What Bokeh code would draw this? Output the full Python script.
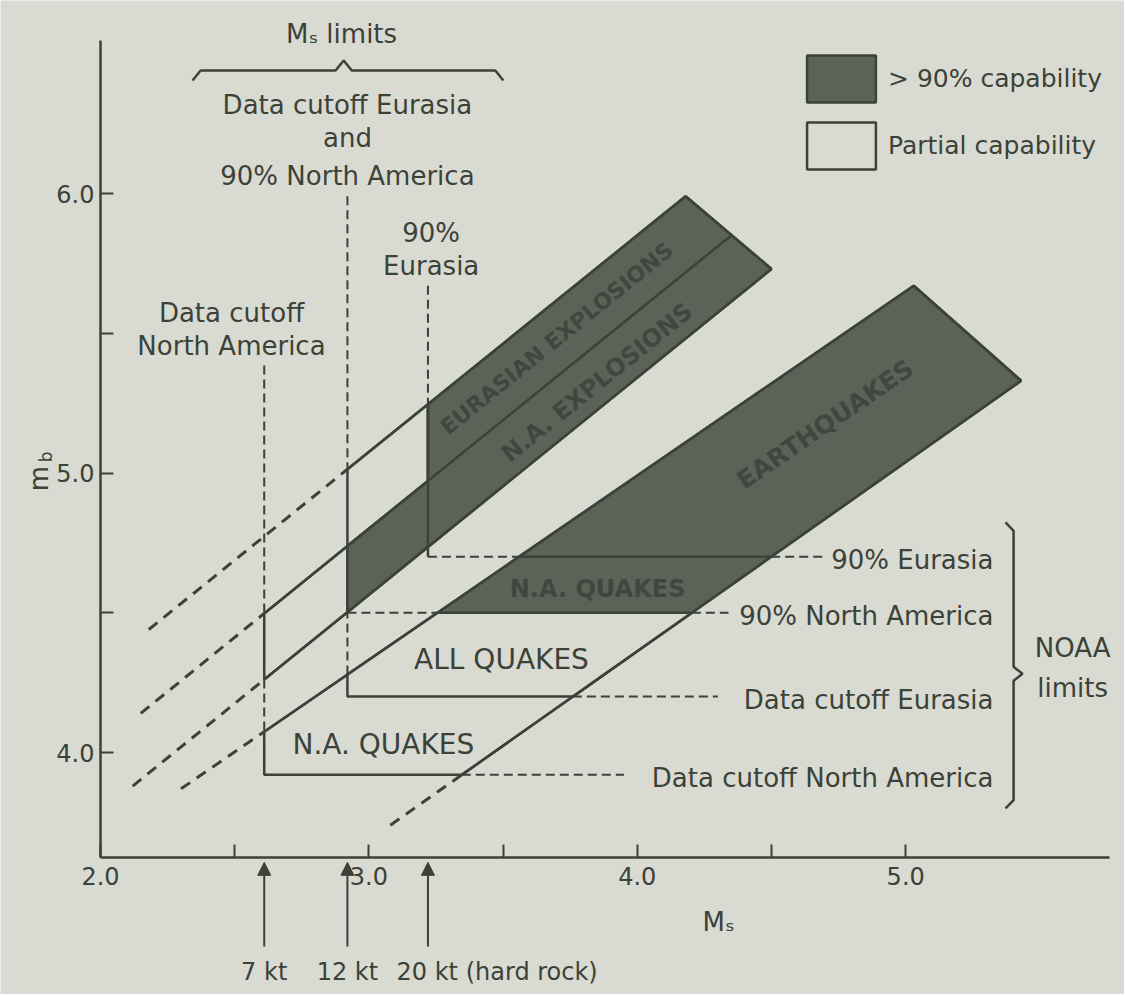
import math
from bokeh.plotting import figure
from bokeh.models import (Range1d, FixedTicker, Arrow, NormalHead,
                          Legend, LegendItem, PrintfTickFormatter)
from bokeh.core.properties import value
from bokeh.embed import file_html
from bokeh.resources import INLINE

# ---------------- data ----------------
# band boundary lines, each given by two (Ms, mb) end points
eu_expl_top  = [(2.18, 4.44), (4.18, 5.99)]   # upper edge, Eurasian explosions
expl_divider = [(2.15, 4.14), (4.35, 5.85)]   # Eurasian / N.A. explosions divider
na_expl_bot  = [(2.12, 3.88), (4.50, 5.73)]   # lower edge, N.A. explosions
quake_top    = [(2.30, 3.87), (5.03, 5.67)]   # upper edge, earthquakes
quake_bot    = [(3.08, 3.74), (5.43, 5.33)]   # lower edge, earthquakes

# Ms limits (vertical lines) and yields
ms_limits = [2.61, 2.92, 3.22]        # data cutoff N.A., data cutoff Eurasia/90% N.A., 90% Eurasia
ms_line_tops = [5.385, 5.99, 5.67]    # mb where the dashed verticals start
yield_labels = ["7 kt", "12 kt", "20 kt (hard rock)"]

# NOAA mb limits (horizontal lines)
mb_limits = [4.70, 4.50, 4.20, 3.92]
mb_limit_labels = ["90% Eurasia", "90% North America",
                   "Data cutoff Eurasia", "Data cutoff North America"]
mb_dash_ends = [4.69, 4.34, 4.30, 3.95]

# axis ticks
x_ticks = [2.0, 2.5, 3.0, 3.5, 4.0, 4.5, 5.0]
x_blank = [2.5, 3.5, 4.5]
y_ticks = [4.0, 4.5, 5.0, 5.5, 6.0]
y_blank = [4.5, 5.5]
x_axis_at_mb = 3.624
y_axis_at_ms = 2.0

# brace extents
ms_brace_span = [2.343, 3.501]
noaa_brace_span = [3.80, 4.823]

# ---------------- styling ----------------
BG = "#d9dad2"
INK = "#3b4238"
DARK = "#5b6257"
DARK_TXT = "#41473e"
FONT = "DejaVu Sans"


def y_at(line, x):
    (x0, y0), (x1, y1) = line
    return y0 + (y1 - y0) * (x - x0) / (x1 - x0)


def x_at(line, y):
    (x0, y0), (x1, y1) = line
    return x0 + (x1 - x0) * (y - y0) / (y1 - y0)


L1, L2, L3, L4, L5 = eu_expl_top, expl_divider, na_expl_bot, quake_top, quake_bot
NAc, EUc, EU90 = ms_limits
E90, N90, Ec, Nc = mb_limits

p = figure(width=1124, height=994, output_backend="svg", toolbar_location=None,
           title=None, x_range=Range1d(1.62742, 5.8152), y_range=Range1d(3.1342, 6.69052),
           min_border_left=0, min_border_right=0, min_border_top=0,
           min_border_bottom=0, min_border=0)
p.background_fill_color = BG
p.border_fill_color = BG
p.outline_line_color = None
p.grid.visible = False

# axes (drawn at fixed data locations so the frame spans the whole canvas)
for ax in p.xaxis:
    ax.ticker = FixedTicker(ticks=x_ticks)
    ax.formatter = PrintfTickFormatter(format="%.1f")
    ax.major_label_overrides = {t: "" for t in x_blank}
    ax.bounds = (2.0, 5.76)
    ax.fixed_location = x_axis_at_mb
for ax in p.yaxis:
    ax.ticker = FixedTicker(ticks=y_ticks)
    ax.formatter = PrintfTickFormatter(format="%.1f")
    ax.major_label_overrides = {t: "" for t in y_blank}
    ax.bounds = (x_axis_at_mb, 6.547)
    ax.fixed_location = y_axis_at_ms
for ax in list(p.xaxis) + list(p.yaxis):
    ax.axis_line_color = INK
    ax.axis_line_width = 2.5
    ax.major_tick_line_color = INK
    ax.major_tick_line_width = 2
    ax.major_tick_in = 13
    ax.major_tick_out = 0
    ax.minor_tick_line_color = None
    ax.major_label_text_font = FONT
    ax.major_label_text_font_size = "24px"
    ax.major_label_text_color = INK
p.xaxis.major_label_standoff = 9
p.yaxis.major_label_standoff = 6
p.yaxis.major_label_orientation = "horizontal"


def seg(line, xa, xb):
    return [xa, xb], [y_at(line, xa), y_at(line, xb)]


# ---------- partial-capability regions ----------
partial = [
    ([EUc, EU90, EU90, EUc], [y_at(L1, EUc), y_at(L1, EU90), y_at(L2, EU90), y_at(L2, EUc)]),
    ([NAc, EUc, EUc, NAc], [y_at(L2, NAc), y_at(L2, EUc), y_at(L3, EUc), y_at(L3, NAc)]),
    ([NAc, NAc, x_at(L4, N90), x_at(L5, N90), x_at(L5, Nc)],
     [Nc, y_at(L4, NAc), N90, N90, Nc]),
    ([EUc, EUc, x_at(L4, N90), x_at(L5, N90), x_at(L5, Ec)],
     [Ec, y_at(L4, EUc), N90, N90, Ec]),
]
r_partial = p.patches([a for a, b in partial], [b for a, b in partial],
                      fill_color=BG, line_color=INK, line_width=2.5)

# ---------- >90% capability regions ----------
dark = [
    ([EU90, L1[1][0], L3[1][0], EUc, EUc, EU90],
     [y_at(L1, EU90), L1[1][1], L3[1][1], max(y_at(L3, EUc), N90), y_at(L2, EUc), y_at(L2, EU90)]),
    ([x_at(L4, N90), L4[1][0], L5[1][0], x_at(L5, N90)],
     [N90, L4[1][1], L5[1][1], N90]),
]
r_dark = p.patches([a for a, b in dark], [b for a, b in dark],
                   fill_color=DARK, line_color=INK, line_width=2.5)

# ---------- solid outlines ----------
solid = [
    seg(L1, EUc, L1[1][0]), seg(L2, NAc, L2[1][0]), seg(L3, NAc, L3[1][0]),
    ([L1[1][0], L3[1][0]], [L1[1][1], L3[1][1]]),
    seg(L4, NAc, L4[1][0]), seg(L5, x_at(L5, Nc), L5[1][0]),
    ([L4[1][0], L5[1][0]], [L4[1][1], L5[1][1]]),
    ([EU90, EU90], [E90, y_at(L1, EU90)]),
    ([x_at(L4, E90), x_at(L5, E90)], [E90, E90]),
]
p.multi_line([a for a, b in solid], [b for a, b in solid], line_color=INK, line_width=2.5)

# ---------- dashed extrapolations of the bands ----------
dashed_thick = [
    seg(L1, L1[0][0], EUc), seg(L2, L2[0][0], NAc), seg(L3, L3[0][0], NAc),
    seg(L4, L4[0][0], NAc), seg(L5, L5[0][0], x_at(L5, Nc)),
]
p.multi_line([a for a, b in dashed_thick], [b for a, b in dashed_thick],
             line_color=INK, line_width=3, line_dash="11 8")

# ---------- dashed limit lines ----------
dashed_thin = [
    ([NAc, NAc], [ms_line_tops[0], y_at(L2, NAc)]),
    ([NAc, NAc], [y_at(L3, NAc), y_at(L4, NAc)]),
    ([EUc, EUc], [ms_line_tops[1], y_at(L1, EUc)]),
    ([EUc, EUc], [y_at(L4, EUc), N90]),
    ([EU90, EU90], [ms_line_tops[2], y_at(L1, EU90)]),
    ([EU90, x_at(L4, E90)], [E90, E90]),
    ([x_at(L5, E90), mb_dash_ends[0]], [E90, E90]),
    ([EUc, x_at(L4, N90)], [N90, N90]),
    ([x_at(L5, N90), mb_dash_ends[1]], [N90, N90]),
    ([x_at(L5, Ec), mb_dash_ends[2]], [Ec, Ec]),
    ([x_at(L5, Nc), mb_dash_ends[3]], [Nc, Nc]),
]
p.multi_line([a for a, b in dashed_thin], [b for a, b in dashed_thin],
             line_color=INK, line_width=2, line_dash="9 5")

# ---------- braces ----------
bx0, bx1 = ms_brace_span
bm = (bx0 + bx1) / 2 - 0.016
p.line([bx0, bx0 + 0.03, bm - 0.03, bm, bm + 0.03, bx1 - 0.03, bx1],
       [6.404, 6.440, 6.440, 6.476, 6.440, 6.440, 6.404], line_color=INK, line_width=2.5)
ny0, ny1 = noaa_brace_span
nm = (ny0 + ny1) / 2 - 0.03
p.line([5.372, 5.402, 5.402, 5.435, 5.402, 5.402, 5.372],
       [ny1, ny1 - 0.03, nm + 0.025, nm, nm - 0.025, ny0 + 0.03, ny0],
       line_color=INK, line_width=2.5)

# ---------- texts ----------
def txt(x, y, s, size="26px", align="center", color=INK, angle=0.0, style="normal"):
    p.text(x=[x], y=[y], text=[s], text_font=value(FONT), text_font_size=size,
           text_color=color, text_align=align, text_baseline="middle",
           angle=angle, text_font_style=style)

txt(2.898, 6.569, "Mₛ limits")
txt(EUc, 6.318, "Data cutoff Eurasia")
txt(EUc, 6.200, "and")
txt(EUc, 6.064, "90% North America")
txt(EU90 + 0.012, 5.857, "90%")
txt(EU90 + 0.012, 5.739, "Eurasia")
txt(2.488, 5.571, "Data cutoff")
txt(2.488, 5.453, "North America")
for lab_text, mb in zip(mb_limit_labels, mb_limits):
    txt(5.327, mb - 0.012, lab_text, align="right")
txt(5.622, 4.375, "NOAA")
txt(5.622, 4.232, "limits")
txt(3.494, 4.333, "ALL QUAKES", size="28px")
txt(3.054, 4.029, "N.A. QUAKES", size="28px")
txt(3.852, (N90 + E90) / 2 - 0.015, "N.A. QUAKES", size="24px", color=DARK_TXT, style="bold")

sx, sy = 268.4, 279.5
ang_expl = math.atan(((L1[1][1] - L1[0][1]) / (L1[1][0] - L1[0][0])) * sy / sx)
ang_quake = math.atan(((L4[1][1] - L4[0][1]) / (L4[1][0] - L4[0][0])) * sy / sx)
xe = 3.70
txt(xe, (y_at(L1, xe) + y_at(L2, xe)) / 2, "EURASIAN EXPLOSIONS", size="22px",
    color=DARK_TXT, angle=ang_expl, style="bold")
xn = 3.85
txt(xn, (y_at(L2, xn) + y_at(L3, xn)) / 2 - 0.02, "N.A. EXPLOSIONS", size="24px",
    color=DARK_TXT, angle=ang_expl, style="bold")
xq = 4.70
txt(xq, (y_at(L4, xq) + y_at(L5, xq)) / 2 + 0.03, "EARTHQUAKES", size="25px",
    color=DARK_TXT, angle=ang_quake, style="bold")

# axis titles
txt(4.303, 3.395, "Mₛ")
txt(1.769, 4.980, "m", angle=math.pi / 2)
txt(1.797, 5.058, "b", size="17px", angle=math.pi / 2)

# yield arrows under the Ms axis
for ms in ms_limits:
    p.add_layout(Arrow(end=NormalHead(size=13, fill_color=INK, line_color=INK),
                       x_start=ms, y_start=3.306, x_end=ms, y_end=3.607,
                       line_color=INK, line_width=2))
txt(ms_limits[0], 3.213, yield_labels[0], size="24px")
txt(ms_limits[1], 3.213, yield_labels[1], size="24px")
txt(3.103, 3.213, yield_labels[2], size="24px", align="left")

# ---------- legend ----------
legend = Legend(items=[LegendItem(label="> 90% capability", renderers=[r_dark]),
                       LegendItem(label="Partial capability", renderers=[r_partial])],
                location=(798, 819), glyph_width=86, glyph_height=59,
                label_standoff=4, spacing=8, padding=0, margin=0,
                border_line_alpha=0, background_fill_alpha=0,
                label_text_font=FONT, label_text_font_size="25px",
                label_text_color=INK)
p.add_layout(legend)

open("out.html", "w").write(file_html(p, INLINE))
